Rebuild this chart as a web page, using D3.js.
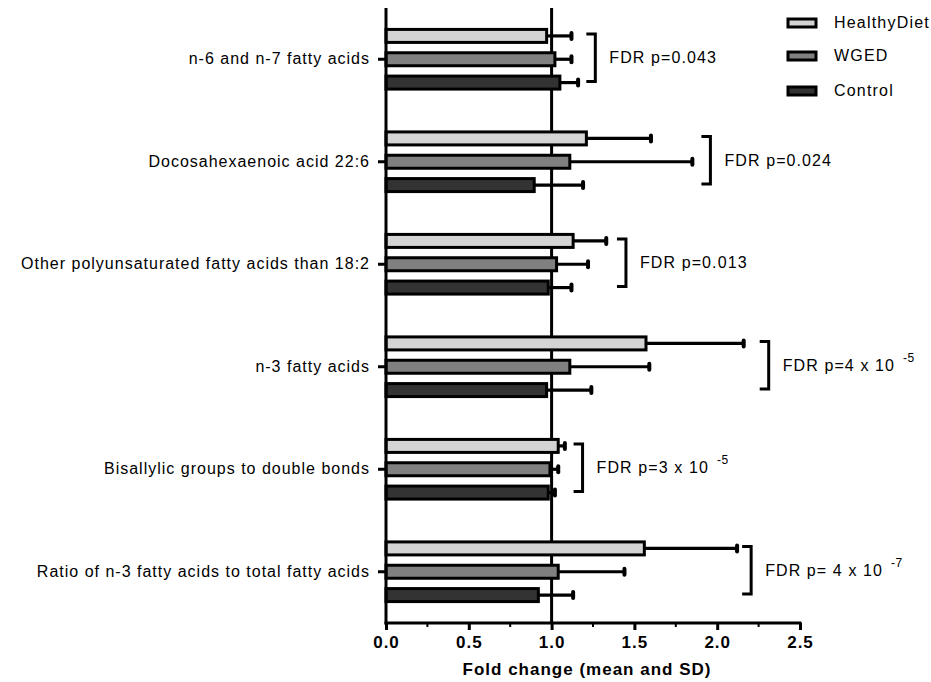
<!DOCTYPE html>
<html>
<head>
<meta charset="utf-8">
<script src="https://cdn.jsdelivr.net/npm/d3@7"></script>
<style>
  body { margin: 0; background: #fff; }
  text { font-family: "Liberation Sans", Arial, sans-serif; fill: #000; }
</style>
</head>
<body>
<div id="chart"></div>
<script>
// categories, top to bottom
var categories = [
  "n-6 and n-7 fatty acids",
  "Docosahexaenoic acid 22:6",
  "Other polyunsaturated fatty acids than 18:2",
  "n-3 fatty acids",
  "Bisallylic groups to double bonds",
  "Ratio of n-3 fatty acids to total fatty acids"
];
var seriesNames = ["HealthyDiet", "WGED", "Control"];

// fold change means and SD (upper whisker only)
var healthyMean = [0.97, 1.21, 1.13, 1.57, 1.04, 1.56];
var healthySD   = [0.15, 0.39, 0.20, 0.59, 0.04, 0.56];
var wgedMean    = [1.02, 1.11, 1.03, 1.11, 0.99, 1.04];
var wgedSD      = [0.10, 0.74, 0.19, 0.48, 0.05, 0.40];
var controlMean = [1.05, 0.895, 0.98, 0.97, 0.98, 0.92];
var controlSD   = [0.11, 0.295, 0.14, 0.27, 0.04, 0.21];

// FDR annotations (bracket placed at this fold-change value)
var fdrText = ["FDR p=0.043", "FDR p=0.024", "FDR p=0.013", "FDR p=4 x 10", "FDR p=3 x 10", "FDR p= 4 x 10"];
var fdrExp  = ["", "", "", "-5", "-5", "-7"];
var bracketAt = [1.264, 1.959, 1.449, 2.311, 1.187, 2.205];

var xTicks = [0, 0.5, 1, 1.5, 2, 2.5];
var xMinorTicks = [0.25, 0.75, 1.25, 1.75, 2.25];

var colors = ["#d4d4d4", "#808080", "#333333"];

var svgWidth = 931, svgHeight = 682;
var svg = d3.select("#chart").append("svg")
  .attr("width", svgWidth)
  .attr("height", svgHeight);

var x = d3.scaleLinear().domain([0, 2.5]).range([386, 800]);
var y0 = d3.scaleBand().domain(categories).range([8, 623]).padding(0);
var y1 = d3.scaleBand().domain(seriesNames)
  .range([y0.bandwidth() / 2 - 35, y0.bandwidth() / 2 + 35]);
var color = d3.scaleOrdinal().domain(seriesNames).range(colors);

var rows = categories.map(function (c, i) {
  return {
    cat: c,
    values: [
      { name: "HealthyDiet", mean: healthyMean[i], sd: healthySD[i] },
      { name: "WGED", mean: wgedMean[i], sd: wgedSD[i] },
      { name: "Control", mean: controlMean[i], sd: controlSD[i] }
    ],
    fdr: fdrText[i],
    exp: fdrExp[i],
    bracket: bracketAt[i]
  };
});

var barH = 13;

// reference line at 1.0 (behind bars)
svg.append("line")
  .attr("x1", x(1)).attr("x2", x(1))
  .attr("y1", 8).attr("y2", 623)
  .attr("stroke", "#000").attr("stroke-width", 3);

var groups = svg.selectAll("g.cat")
  .data(rows)
  .enter().append("g")
  .attr("class", "cat")
  .attr("transform", d => `translate(0, ${y0(d.cat)})`);

var barG = groups.selectAll("g.bar")
  .data(d => d.values)
  .enter().append("g")
  .attr("class", "bar");

// error whiskers
barG.append("line")
  .attr("x1", d => x(d.mean))
  .attr("x2", d => x(d.mean + d.sd))
  .attr("y1", d => y1(d.name) + y1.bandwidth() / 2)
  .attr("y2", d => y1(d.name) + y1.bandwidth() / 2)
  .attr("stroke", "#000").attr("stroke-width", 3.2);

barG.append("line")
  .attr("x1", d => x(d.mean + d.sd))
  .attr("x2", d => x(d.mean + d.sd))
  .attr("y1", d => y1(d.name) + y1.bandwidth() / 2 - 3)
  .attr("y2", d => y1(d.name) + y1.bandwidth() / 2 + 3)
  .attr("stroke", "#000").attr("stroke-width", 4)
  .attr("stroke-linecap", "round");

barG.append("rect")
  .attr("x", x(0))
  .attr("y", d => y1(d.name) + y1.bandwidth() / 2 - barH / 2)
  .attr("width", d => x(d.mean) - x(0))
  .attr("height", barH)
  .attr("fill", d => color(d.name))
  .attr("stroke", "#000")
  .attr("stroke-width", 3);

// brackets + FDR labels
var bracketTop = y1("HealthyDiet") + y1.bandwidth() / 2 - 2;
var bracketBot = y1("Control") + y1.bandwidth() / 2 - 1;
groups.append("path")
  .attr("d", d => `M${x(d.bracket) - 9},${bracketTop} H${x(d.bracket)} V${bracketBot} H${x(d.bracket) - 9}`)
  .attr("fill", "none")
  .attr("stroke", "#000")
  .attr("stroke-width", 3);

var fdrLabel = groups.append("text")
  .attr("x", d => x(d.bracket) + 14)
  .attr("y", y0.bandwidth() / 2 + 4)
  .attr("font-size", 16)
  .attr("letter-spacing", 1.1);
fdrLabel.append("tspan").text(d => d.fdr);
fdrLabel.filter(d => d.exp !== "").append("tspan")
  .attr("dx", 8).attr("dy", -9)
  .attr("font-size", 12)
  .attr("letter-spacing", 0.5)
  .text(d => d.exp);

// y axis
var yAxis = svg.append("g")
  .attr("transform", `translate(${x(0)}, 0)`)
  .call(d3.axisLeft(y0).tickSize(8).tickPadding(8));
yAxis.select(".domain").remove();
yAxis.selectAll(".tick line").attr("stroke", "#000").attr("stroke-width", 3);
yAxis.selectAll(".tick text")
  .attr("font-size", 16)
  .attr("letter-spacing", 1)
  .attr("fill", "#000")
  .style("font-family", "'Liberation Sans', Arial, sans-serif");
svg.append("line")
  .attr("x1", x(0)).attr("x2", x(0))
  .attr("y1", 8).attr("y2", 624.5)
  .attr("stroke", "#000").attr("stroke-width", 3);

// x axis
var xAxis = svg.append("g")
  .attr("transform", "translate(0, 623)")
  .call(d3.axisBottom(x).tickValues(xTicks).tickSize(7).tickPadding(6)
    .tickFormat(d3.format(".1f")));
xAxis.select(".domain").remove();
xAxis.selectAll(".tick line").attr("stroke", "#000").attr("stroke-width", 3);
xAxis.selectAll(".tick text")
  .attr("font-size", 17)
  .attr("font-weight", "bold")
  .attr("letter-spacing", 1)
  .attr("fill", "#000")
  .style("font-family", "'Liberation Sans', Arial, sans-serif");
svg.append("g")
  .attr("transform", "translate(0, 623)")
  .selectAll("line")
  .data(xMinorTicks)
  .enter().append("line")
  .attr("x1", d => x(d)).attr("x2", d => x(d))
  .attr("y1", 0).attr("y2", 4)
  .attr("stroke", "#000").attr("stroke-width", 2);
svg.append("line")
  .attr("x1", x(0) - 1.5).attr("x2", x(2.5) + 1.5)
  .attr("y1", 623).attr("y2", 623)
  .attr("stroke", "#000").attr("stroke-width", 3);

svg.append("text")
  .attr("x", (x(0) + x(2.5)) / 2 - 6)
  .attr("y", 675)
  .attr("text-anchor", "middle")
  .attr("font-size", 17)
  .attr("font-weight", "bold")
  .attr("letter-spacing", 1)
  .text("Fold change (mean and SD)");

// legend
var legend = svg.append("g").attr("transform", "translate(788, 0)");
var legendY = [23, 56, 91];
seriesNames.forEach(function (s, i) {
  legend.append("rect")
    .attr("x", 0).attr("y", legendY[i] - 4)
    .attr("width", 28).attr("height", 8)
    .attr("fill", color(s))
    .attr("stroke", "#000").attr("stroke-width", 3);
  legend.append("text")
    .attr("x", 46).attr("y", legendY[i] + 5)
    .attr("font-size", 16)
    .attr("letter-spacing", 1.2)
    .text(s);
});
</script>
</body>
</html>
